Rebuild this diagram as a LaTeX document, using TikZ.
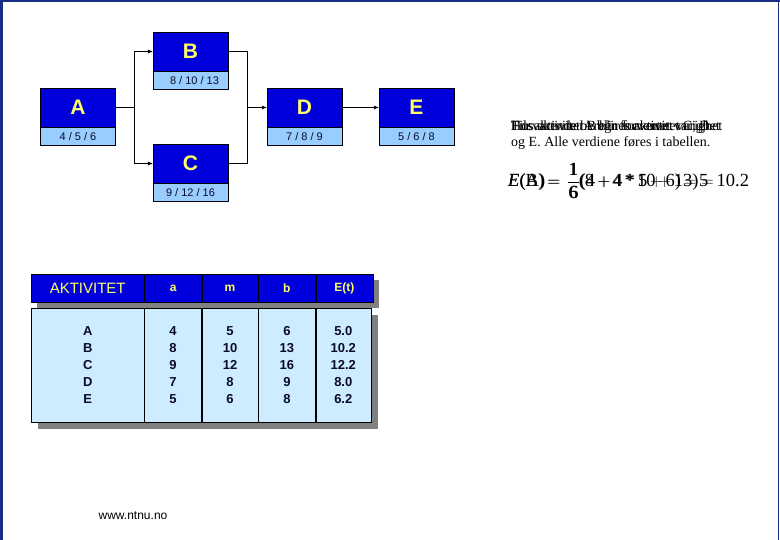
\documentclass[tikz,border=0pt]{standalone}
\usepackage{amsmath}
\usepackage{fontspec}
\setmainfont{Liberation Sans}
\newfontfamily\timesfont{Liberation Serif}
\usetikzlibrary{arrows.meta,positioning,calc,backgrounds}
\definecolor{actblue}{RGB}{0,0,221}
\definecolor{actyellow}{RGB}{255,255,102}
\definecolor{durblue}{RGB}{153,204,255}
\definecolor{tabblue}{RGB}{206,236,255}
\definecolor{framenavy}{RGB}{22,45,130}
\definecolor{shadowgray}{RGB}{128,128,128}
\definecolor{inkdark}{RGB}{10,10,40}

\begin{document}
\begin{tikzpicture}[x=1pt,y=-1pt,
    act/.style={draw, fill=actblue, text=actyellow, minimum width=75pt, minimum height=39pt, inner sep=0pt, font=\bfseries\fontsize{21}{21}\selectfont},
    dur/.style={draw, fill=durblue, text=inkdark, minimum width=75pt, minimum height=18pt, inner sep=0pt, font=\fontsize{11}{11}\selectfont, anchor=north},
    arr/.style={-{Latex[length=5pt,width=4pt]}},
    hdr/.style={draw, fill=actblue, text=actyellow, minimum height=28pt, inner sep=0pt, font=\bfseries\fontsize{12}{12}\selectfont},
    cell/.style={draw, fill=tabblue, text=inkdark, minimum height=114pt, inner sep=0pt, align=center, font=\bfseries\fontsize{13}{17}\selectfont},
    txt/.style={anchor=base west, inner sep=0pt, font=\timesfont\fontsize{14}{14}\selectfont},
    eq/.style={anchor=base west, inner sep=0pt, font=\timesfont\fontsize{18.5}{18.5}\selectfont}
]
\useasboundingbox (0,0) rectangle (780,540);

% activities
\node[act] (A) at (78,107.5) {A};
\node[dur] (Ad) at (A.south) {4 / 5 / 6};
\node[act] (B) at (190.5,51.5) {B};
\node[dur] (Bd) at (B.south) {\hspace{8pt}8 / 10 / 13};
\node[act] (C) at (190.5,163.5) {C};
\node[dur] (Cd) at (C.south) {9 / 12 / 16};
\node[act] (D) at (304.5,107.5) {D};
\node[dur] (Dd) at (D.south) {7 / 8 / 9};
\node[act] (E) at (416.5,107.5) {E};
\node[dur] (Ed) at (E.south) {5 / 6 / 8};

\coordinate (split) at (134,107.5);
\coordinate (merge) at (247,107.5);
\draw (A.east) -- (split);
\draw[arr] (split) |- (B.west);
\draw[arr] (split) |- (C.west);
\draw (B.east) -| (merge);
\draw (C.east) -| (merge);
\draw[arr] (merge) -- (D.west);
\draw[arr] (D.east) -- (E.west);

% table
\node[hdr, anchor=north west, minimum width=113pt, font=\fontsize{15}{15}\selectfont] (hAkt) at (31,274) {AKTIVITET};
\node[hdr, minimum width=57pt, right=0pt of hAkt] (hA) {a};
\node[hdr, minimum width=56pt, right=0pt of hA] (hM) {m};
\node[hdr, minimum width=57pt, right=0pt of hM] (hB) {b};
\node[hdr, minimum width=57pt, right=0pt of hB] (hE) {E(t)};

\node[cell, anchor=north west, minimum width=113pt] (cAkt) at (31,308) {A\\B\\C\\D\\E};
\node[cell, minimum width=57pt, right=0pt of cAkt] (cA) {4\\8\\9\\7\\5};
\node[cell, minimum width=56pt, right=0pt of cA] (cM) {5\\10\\12\\8\\6};
\node[cell, minimum width=57pt, right=0pt of cM] (cB) {6\\13\\16\\9\\8};
\node[cell, minimum width=55pt, right=0pt of cB] (cE) {5.0\\10.2\\12.2\\8.0\\6.2};

\begin{scope}[on background layer]
\fill[shadowgray] ($(hAkt.north west)+(6,6)$) rectangle ($(hE.south east)+(6,6)$);
\fill[shadowgray] ($(cAkt.north west)+(7,7)$) rectangle ($(cE.south east)+(7,7)$);
\end{scope}

% text, frames laid on top of each other
\node[txt] (txtA) at (511,131) {For aktivitet A blir forventet varighet};
\node[txt] (txtB) at (511,131) {Hos aktivitet B blir forventet varighet};
\node[txt] (txtC) at (511,131) {Tilsvarende beregnes aktivitet C, D};
\node[txt] (txtC2) at (511,147) {og E. Alle verdiene føres i tabellen.};

\node[eq] (eqA) at (508,187) {\textit{E}(A)$\,=\,\dfrac{\text{1}}{\text{6}}$(4$\,+\,$4\,*\,5$\,+\,$6)$\,=\,$5};
\node[eq] (eqB) at (508,187) {\textit{E}(B)$\,=\,\dfrac{\text{1}}{\text{6}}$(8$\,+\,$4\,*\,10$\,+\,$13)$\,=\,$10.2};

\node[font=\fontsize{12}{12}\selectfont] (url) at (133,516) {www.ntnu.no};

% frame
\draw[framenavy, line width=2.5pt] (1.25,540) -- (1.25,1.25) -- (780,1.25);
\draw[framenavy, line width=1pt] (778.5,1) -- (778.5,540);
\end{tikzpicture}
\end{document}
